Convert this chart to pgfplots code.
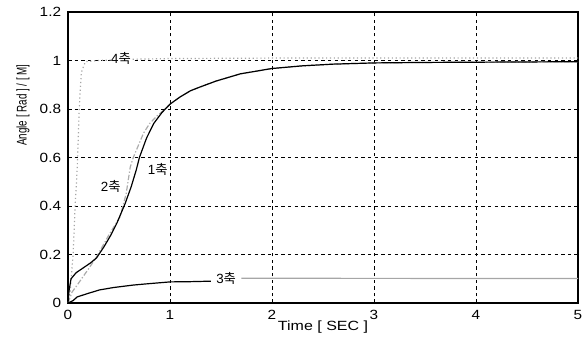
\documentclass[border=0pt]{standalone}
\usepackage{fontspec}
\setmainfont{Liberation Sans}
\newfontfamily\kr{Noto Sans CJK KR}
\usepackage{graphicx}
\usepackage{pgfplots}
\pgfplotsset{compat=1.18}
\usetikzlibrary{calc}
\begin{document}
\begin{tikzpicture}
\begin{axis}[
  scale only axis, width=382.5pt, height=218.25pt,
  xmin=0, xmax=5, ymin=0, ymax=1.2,
  xtick={0,1,2,3,4,5}, ytick={0,0.2,0.4,0.6,0.8,1,1.2},
  yticklabels={0,0.2,0.4,0.6,0.8,1,1.2},
  xticklabels={0,1,2,3,4,5},
  tick align=inside, major tick length=3pt,
  tick style={black, line width=0.6pt},
  axis line style={black, line width=1pt},
  grid=major,
  major grid style={black, line width=0.6pt, dash pattern=on 2.5pt off 2.5pt},
  ticklabel style={font=\fontsize{10}{12}\selectfont, xscale=1.15},
  xticklabel style={yshift=-2pt},
  yticklabel style={xshift=-1pt},
  xlabel={Time [ SEC ]},
  xlabel style={font=\fontsize{10}{12}\selectfont, xscale=1.2, at={(axis description cs:0.5,-0.081)}, anchor=center},
  ylabel={\scalebox{0.7}[1]{Angle [ Rad ] / [ M]}},
  ylabel style={font=\fontsize{10.5}{12}\selectfont, at={(axis description cs:-0.088,0.68)}, anchor=center},
  clip=true,
]
% 4 axis
\addplot[gray!70, dotted, line width=0.9pt] coordinates {
(0,0) (0.02,0.04) (0.05,0.2) (0.07,0.4) (0.09,0.55) (0.11,0.8) (0.13,0.95) (0.17,0.995) (0.3,1.0) (0.6,1.005) (1,1.008) (2,1.01) (3,1.01) (5,1.01)};
% 2 axis
\addplot[gray!65, line width=0.9pt, dash pattern=on 4pt off 1.5pt on 1pt off 1.5pt] coordinates {
(0,0) (0.04,0.045) (0.1,0.08) (0.2,0.14) (0.28,0.19) (0.4,0.28) (0.51,0.355) (0.57,0.45) (0.61,0.56) (0.64,0.60) (0.7,0.66) (0.74,0.70) (0.8,0.74) (0.87,0.77) (0.95,0.80) (1.0,0.82) (1.1,0.85) (1.2,0.875) (1.29,0.89) (1.45,0.915) (1.69,0.945) (2.0,0.967) (2.3,0.978) (2.6,0.985) (3,0.99) (3.5,0.992) (4,0.993) (5,0.995)};
% 1 axis
\addplot[black, line width=0.9pt] coordinates {
(0,0) (0.01,0.05) (0.03,0.1) (0.08,0.125) (0.15,0.145) (0.22,0.165) (0.28,0.186) (0.35,0.23) (0.42,0.28) (0.48,0.33) (0.52,0.37) (0.56,0.41) (0.62,0.48) (0.67,0.55) (0.70,0.60) (0.77,0.68) (0.84,0.74) (0.92,0.785) (1.0,0.82) (1.1,0.85) (1.2,0.875) (1.29,0.89) (1.45,0.915) (1.69,0.945) (2.0,0.967) (2.3,0.978) (2.6,0.985) (3,0.99) (3.5,0.992) (4,0.993) (5,0.995)};
% 3 axis
\addplot[black, line width=0.9pt] coordinates {
(0,0) (0.05,0.01) (0.09,0.025) (0.2,0.04) (0.31,0.054) (0.45,0.064) (0.64,0.074) (0.8,0.08) (1.0,0.087) (1.2,0.088) (1.4,0.09)};
\addplot[gray!70, line width=0.8pt] coordinates {(1.7,0.102) (2.6,0.102) (3.5,0.101) (5,0.101)};
\node[font=\fontsize{10}{12}\selectfont, fill=white, inner sep=0.5pt] at (axis cs:0.52,1.01) {4\kr 축};
\node[font=\fontsize{10}{12}\selectfont, fill=white, inner sep=0.5pt] at (axis cs:0.42,0.48) {2\kr 축};
\node[font=\fontsize{10}{12}\selectfont, fill=white, inner sep=0.5pt] at (axis cs:0.88,0.55) {1\kr 축};
\node[font=\fontsize{10}{12}\selectfont, fill=white, inner sep=0.5pt] at (axis cs:1.55,0.103) {3\kr 축};
\end{axis}
\pgfresetboundingbox
\path[use as bounding box] ($(current axis.south west)+(-51pt,-26.25pt)$) rectangle ($(current axis.north east)+(4.5pt,9pt)$);
\end{tikzpicture}
\end{document}
